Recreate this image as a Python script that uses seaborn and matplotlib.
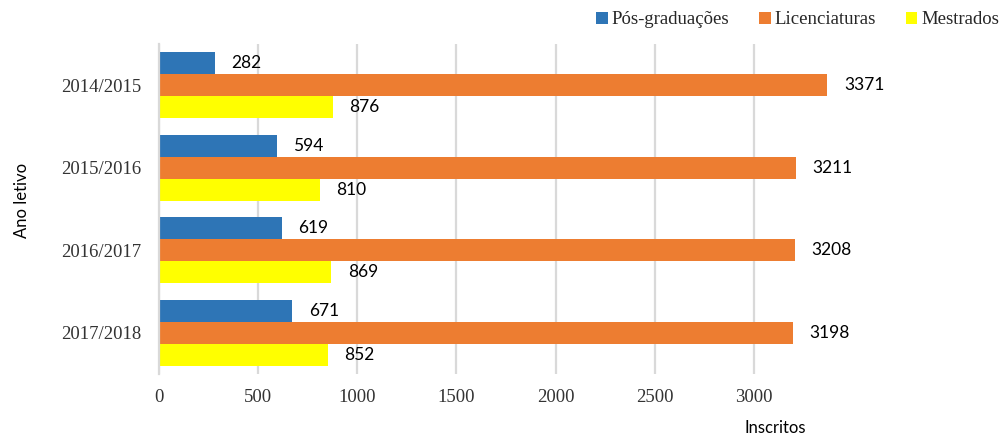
import matplotlib
matplotlib.use("Agg")
import matplotlib.pyplot as plt
import seaborn as sns
import pandas as pd

anos = ["2014/2015", "2015/2016", "2016/2017", "2017/2018"]
series = ["Pós-graduações", "Licenciaturas", "Mestrados"]
pos_graduacoes = [282, 594, 619, 671]
licenciaturas = [3371, 3211, 3208, 3198]
mestrados = [876, 810, 869, 852]
cores = ["#2E75B6", "#ED7D31", "#FFFF00"]
xticks = [0, 500, 1000, 1500, 2000, 2500, 3000]

rows = []
for nome, vals in zip(series, [pos_graduacoes, licenciaturas, mestrados]):
    for ano, v in zip(anos, vals):
        rows.append({"Ano letivo": ano, "Inscritos": v, "Tipo": nome})
df = pd.DataFrame(rows)

sns.set_style("white")
fig = plt.figure(figsize=(10.01, 4.38), dpi=100)
ax = fig.add_axes([159 / 1001, 1 - 374 / 438, (853 - 159) / 1001, 330 / 438])

sns.barplot(data=df, y="Ano letivo", x="Inscritos", hue="Tipo",
            hue_order=series, order=anos, palette=cores, orient="h",
            width=0.8, saturation=1, linewidth=0, ax=ax, legend=True)

ax.set_xlim(0, 3500)
ax.set_xticks(xticks)
ax.set_xticklabels([str(t) for t in xticks], family="Liberation Serif",
                   fontsize=13.5, color="#333333")
for lab in ax.get_yticklabels():
    lab.set_family("Liberation Serif")
    lab.set_fontsize(13.5)
    lab.set_color("#333333")
ax.tick_params(axis="both", length=0)
ax.tick_params(axis="x", pad=11)
ax.tick_params(axis="y", pad=13)

ax.grid(axis="x", color="#d9d9d9", linewidth=1.6)
ax.set_axisbelow(True)
for s in ["top", "right", "bottom"]:
    ax.spines[s].set_visible(False)
ax.spines["left"].set_color("#d9d9d9")
ax.spines["left"].set_linewidth(1.6)

for cont in ax.containers:
    ax.bar_label(cont, labels=[f"{int(v)}" for v in cont.datavalues],
                 padding=12, fontsize=12.5, family="Lato", color="#000000",
                 clip_on=False)

ax.set_ylabel("")
ax.set_xlabel("")
fig.text(22 / 1001, 1 - 200 / 438, "Ano letivo", rotation=90, ha="center",
         va="center", fontsize=12, family="Lato", color="#000000")
fig.text(775 / 1001, 1 - 428 / 438, "Inscritos", ha="center", va="center",
         fontsize=12, family="Lato", color="#000000")

handles, labels = ax.get_legend_handles_labels()
ax.legend_.remove()
fig.legend(handles, labels, loc="center right", bbox_to_anchor=(0.998, 1 - 20 / 438),
           ncol=3, frameon=False, prop={"family": "Liberation Serif", "size": 13.5},
           handlelength=0.62, handleheight=0.62, handletextpad=0.2,
           columnspacing=1.6, borderaxespad=0.0, borderpad=0.0)

fig.savefig("out.png", dpi=100)
